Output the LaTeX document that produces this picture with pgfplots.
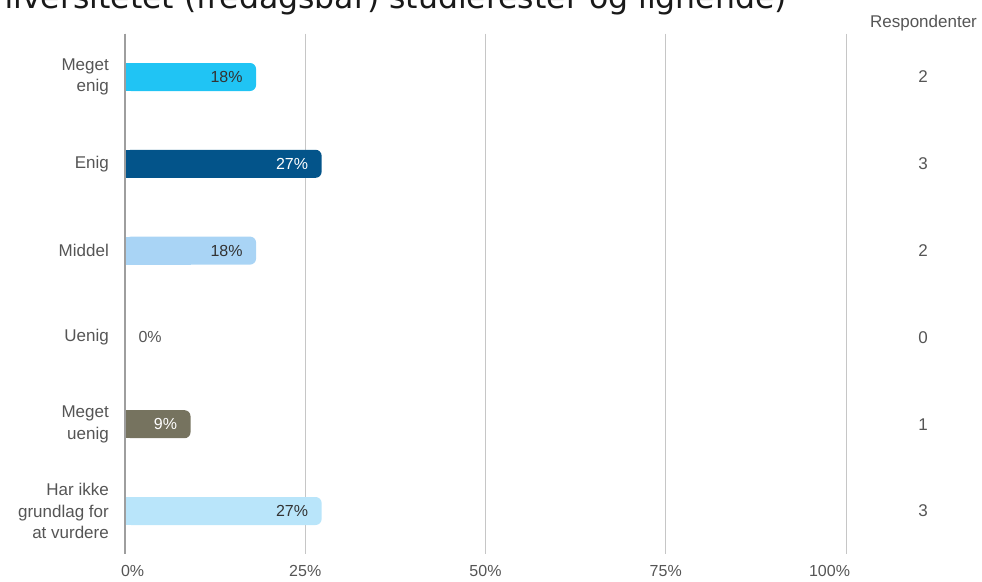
\documentclass[border=0pt]{standalone}
\usepackage{pgfplots}
\pgfplotsset{compat=1.18}
\usepackage{fontspec}
\setmainfont{Liberation Sans}
\newfontfamily\titlefont{DejaVu Sans}

\definecolor{megetenig}{HTML}{20C4F4}
\definecolor{enig}{HTML}{03548A}
\definecolor{middel}{HTML}{A9D4F5}
\definecolor{megetuenig}{HTML}{76735F}
\definecolor{harikke}{HTML}{B9E5FA}
\definecolor{gridgray}{HTML}{C6C6C6}
\definecolor{zerogray}{HTML}{9E9E9E}
\definecolor{labelgray}{HTML}{555555}
\definecolor{valgray}{HTML}{333333}

% one rounded bar; the half-length plain bar squares off its left end
\newcommand\roundbar[3]{%
  \addplot[fill=#1, draw=none, rounded corners=6pt] coordinates {(#2,#3)};
  \addplot[fill=#1, draw=none, x filter/.expression={x/2}] coordinates {(#2,#3)};
}

\begin{document}
\begin{tikzpicture}[x=1pt,y=1pt]
\begin{axis}[
  at={(125pt,26.6pt)}, anchor=south west,
  width=721pt, height=520.8pt, scale only axis,
  xmin=0, xmax=100, ymin=-0.5, ymax=5.5, y dir=reverse,
  axis line style={draw=none},
  major tick length=0pt,
  xtick={0,25,50,75,100},
  xticklabels={{\makebox[0pt][l]{\hspace*{-4pt}0\%}},25\%,50\%,75\%,{\makebox[0pt][r]{100\%\hspace*{-4pt}}}},
  xticklabel style={font=\fontsize{16}{19}\selectfont, text=labelgray, inner sep=0pt, yshift=-11pt},
  ytick={0,...,5},
  yticklabels={{Meget\\enig},Enig,Middel,Uenig,{Meget\\uenig},{Har ikke\\grundlag for\\at vurdere}},
  yticklabel style={align=right, font=\fontsize{17}{21.5}\selectfont, text=labelgray, inner sep=0pt, xshift=-16pt},
  xmajorgrids, grid style={gridgray, line width=1pt},
  xbar, bar shift=0pt, bar width=28pt,
  clip=false,
]
\roundbar{megetenig}{18.18}{0}
\roundbar{enig}{27.27}{1}
\roundbar{middel}{18.18}{2}
\roundbar{megetuenig}{9.09}{4}
\roundbar{harikke}{27.27}{5}

% value labels inside the bars
\addplot[xbar=0pt, draw=none, fill=none, point meta=explicit symbolic, nodes near coords,
  every node near coord/.append style={anchor=east, xshift=-10pt, font=\fontsize{16}{19}\selectfont, text=valgray}]
  coordinates {(18.18,0) [18\%] (18.18,2) [18\%] (27.27,5) [27\%]};
\addplot[xbar=0pt, draw=none, fill=none, point meta=explicit symbolic, nodes near coords,
  every node near coord/.append style={anchor=east, xshift=-10pt, font=\fontsize{16}{19}\selectfont, text=white}]
  coordinates {(27.27,1) [27\%] (9.09,4) [9\%]};
\addplot[xbar=0pt, draw=none, fill=none, point meta=explicit symbolic, nodes near coords,
  every node near coord/.append style={anchor=west, xshift=10pt, font=\fontsize{16}{19}\selectfont, text=labelgray}]
  coordinates {(0,3) [0\%]};

\draw[zerogray, line width=1.3pt] (axis cs:0,-0.5) -- (axis cs:0,5.5);
\end{axis}

% respondent counts on the right
\begin{axis}[
  at={(125pt,26.6pt)}, anchor=south west,
  width=721pt, height=520.8pt, scale only axis,
  xmin=0, xmax=100, ymin=-0.5, ymax=5.5, y dir=reverse,
  axis line style={draw=none}, major tick length=0pt,
  xtick=\empty, ytick={0,...,5},
  yticklabel pos=right,
  yticklabels={2,3,2,0,1,3},
  yticklabel style={anchor=center, xshift=77pt, font=\fontsize{17}{20}\selectfont, text=labelgray},
]
\end{axis}

\node[anchor=base, font=\fontsize{17}{20}\selectfont, text=labelgray] at (923.5,553) {Respondenter};
\node[anchor=base east, inner sep=0pt, font=\titlefont\fontsize{31.5}{36}\selectfont, text=black!90] at (787,572)
  {universitetet (fredagsbar) studierester og lignende)};

\pgfresetboundingbox
\useasboundingbox (0,0) rectangle (982,581);
\end{tikzpicture}
\end{document}
